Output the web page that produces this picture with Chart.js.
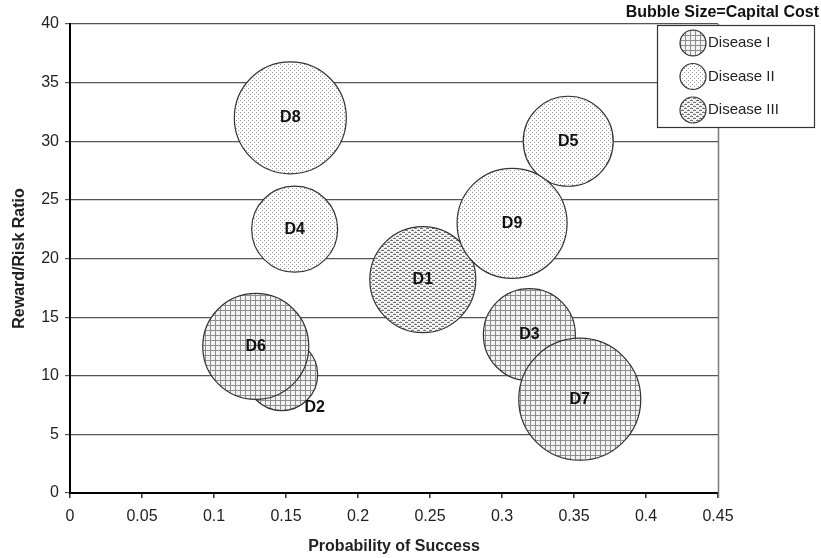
<!DOCTYPE html>
<html>
<head>
<meta charset="utf-8">
<script src="https://cdn.jsdelivr.net/npm/chart.js@4"></script>
<style>
  html, body { margin: 0; padding: 0; background: #fff; }
  #wrap { width: 821px; height: 558px; }
</style>
</head>
<body>
<div id="wrap"><canvas id="bubbleChart"></canvas></div>
<script>
// project data
const projects    = ["D1", "D2", "D3", "D4", "D5", "D6", "D7", "D8", "D9"];
const probability = [0.245, 0.147, 0.319, 0.156, 0.346, 0.129, 0.354, 0.153, 0.307];
const rewardRisk  = [18.2, 10.1, 13.5, 22.5, 30, 12.5, 8, 32, 23];
const capitalCost = [53, 36, 46, 43, 45, 53, 61, 56, 55];   // bubble radius
const disease     = [3, 1, 1, 2, 2, 1, 1, 2, 2];
const diseaseNames = ["Disease I", "Disease II", "Disease III"];

const xTicks = ["0", "0.05", "0.1", "0.15", "0.2", "0.25", "0.3", "0.35", "0.4", "0.45"];
const yTicks = ["0", "5", "10", "15", "20", "25", "30", "35", "40"];

const FONT = '"Liberation Sans", Arial, sans-serif';
const canvas = document.getElementById('bubbleChart');
const ctx = canvas.getContext('2d');

// fill patterns: grid, dots, dashes
function makePattern(kind) {
  const t = document.createElement('canvas');
  const g = t.getContext('2d');
  if (kind === 1) {
    t.width = 5; t.height = 5;
    g.fillStyle = '#f3f3f3'; g.fillRect(0, 0, 5, 5);
    g.fillStyle = '#8e8e8e';
    g.fillRect(0, 0, 5, 1);
    g.fillRect(0, 0, 1, 5);
  } else if (kind === 2) {
    t.width = 4; t.height = 4;
    g.fillStyle = '#ffffff'; g.fillRect(0, 0, 4, 4);
    g.fillStyle = '#9c9c9c';
    g.fillRect(0, 0, 1, 1);
    g.fillRect(2, 2, 1, 1);
  } else {
    t.width = 6; t.height = 4;
    g.fillStyle = '#f6f6f6'; g.fillRect(0, 0, 6, 4);
    g.fillStyle = '#737373';
    g.fillRect(0, 0, 3, 1);
    g.fillRect(3, 2, 3, 1);
    g.fillStyle = '#bdbdbd';
    g.fillRect(4, 1, 1, 1);
    g.fillRect(1, 3, 1, 1);
  }
  return ctx.createPattern(t, 'repeat');
}
const patterns = [makePattern(1), makePattern(2), makePattern(3)];

const datasets = diseaseNames.map((name, k) => {
  const idx = projects.map((p, i) => i).filter(i => disease[i] === k + 1);
  return {
    label: name,
    names: idx.map(i => projects[i]),
    data: idx.map(i => ({ x: probability[i], y: rewardRisk[i], r: capitalCost[i] })),
    backgroundColor: patterns[k],
    borderColor: '#333',
    borderWidth: 1.2
  };
});

const labelOffsets = { D2: [33, 33] };

const bubbleLabels = {
  id: 'bubbleLabels',
  beforeDatasetsDraw(chart) {
    const a = chart.chartArea, c = chart.ctx;
    c.save();
    c.strokeStyle = '#7a7a7a';
    c.lineWidth = 1.5;
    c.beginPath();
    c.moveTo(a.right + 0.5, a.top);
    c.lineTo(a.right + 0.5, a.bottom + 5);
    c.stroke();
    c.restore();
  },
  afterDatasetsDraw(chart) {
    const c = chart.ctx;
    c.save();
    c.font = 'bold 16px ' + FONT;
    c.fillStyle = '#111';
    c.textAlign = 'center';
    c.textBaseline = 'middle';
    chart.data.datasets.forEach((ds, di) => {
      chart.getDatasetMeta(di).data.forEach((el, i) => {
        const name = ds.names[i];
        const off = labelOffsets[name] || [0, 0];
        c.fillText(name, el.x + off[0], el.y + off[1]);
      });
    });
    c.restore();
  },
  afterDraw(chart) {
    const a = chart.chartArea, c = chart.ctx;
    const left = a.right - 61, top = a.top + 1, w = 157, h = 102;
    c.save();
    c.fillStyle = '#fff';
    c.fillRect(left, top, w, h);
    c.strokeStyle = '#333';
    c.lineWidth = 1.2;
    c.strokeRect(left + 0.5, top + 0.5, w, h);

    c.font = 'bold 16px ' + FONT;
    c.fillStyle = '#111';
    c.textAlign = 'right';
    c.textBaseline = 'middle';
    c.fillText('Bubble Size=Capital Cost', 819, 13);

    c.font = '15px ' + FONT;
    c.textAlign = 'left';
    diseaseNames.forEach((name, k) => {
      const cy = top + 18 + k * 33.5;
      c.beginPath();
      c.arc(left + 36, cy, 13, 0, Math.PI * 2);
      c.fillStyle = patterns[k];
      c.fill();
      c.strokeStyle = '#333';
      c.lineWidth = 1.2;
      c.stroke();
      c.fillStyle = '#222';
      c.fillText(name, left + 51, cy);
    });
    c.restore();
  }
};

new Chart(canvas, {
  type: 'bubble',
  data: { datasets },
  options: {
    responsive: true,
    maintainAspectRatio: false,
    animation: false,
    events: [],
    layout: { autoPadding: false, padding: { top: 24, right: 103, left: 0, bottom: 0 } },
    plugins: { legend: { display: false }, tooltip: { enabled: false } },
    scales: {
      x: {
        type: 'linear',
        min: 0,
        max: 0.45,
        afterFit: s => { s.height = 65; },
        afterBuildTicks: s => { s.ticks = xTicks.map(t => ({ value: parseFloat(t) })); },
        ticks: {
          callback: (v, i) => xTicks[i],
          font: { family: FONT, size: 16 },
          color: '#222',
          padding: 9,
          maxRotation: 0
        },
        grid: { drawOnChartArea: false, tickLength: 5, color: '#333', lineWidth: 1.5 },
        border: { color: '#000', width: 2 },
        title: {
          display: true,
          text: 'Probability of Success',
          font: { family: FONT, size: 16, weight: 'bold' },
          color: '#222',
          padding: { top: 0, bottom: 2 }
        }
      },
      y: {
        type: 'linear',
        min: 0,
        max: 40,
        afterFit: s => { s.width = 70; },
        afterBuildTicks: s => { s.ticks = yTicks.map(t => ({ value: parseFloat(t) })); },
        ticks: {
          callback: (v, i) => yTicks[i],
          font: { family: FONT, size: 16 },
          color: '#222',
          padding: 6
        },
        grid: { color: '#555', lineWidth: 1.2, tickLength: 5 },
        border: { color: '#000', width: 2 },
        title: {
          display: true,
          text: 'Reward/Risk Ratio',
          font: { family: FONT, size: 16, weight: 'bold' },
          color: '#222',
          padding: { top: 10, bottom: 0 }
        }
      }
    }
  },
  plugins: [bubbleLabels]
});
</script>
</body>
</html>
